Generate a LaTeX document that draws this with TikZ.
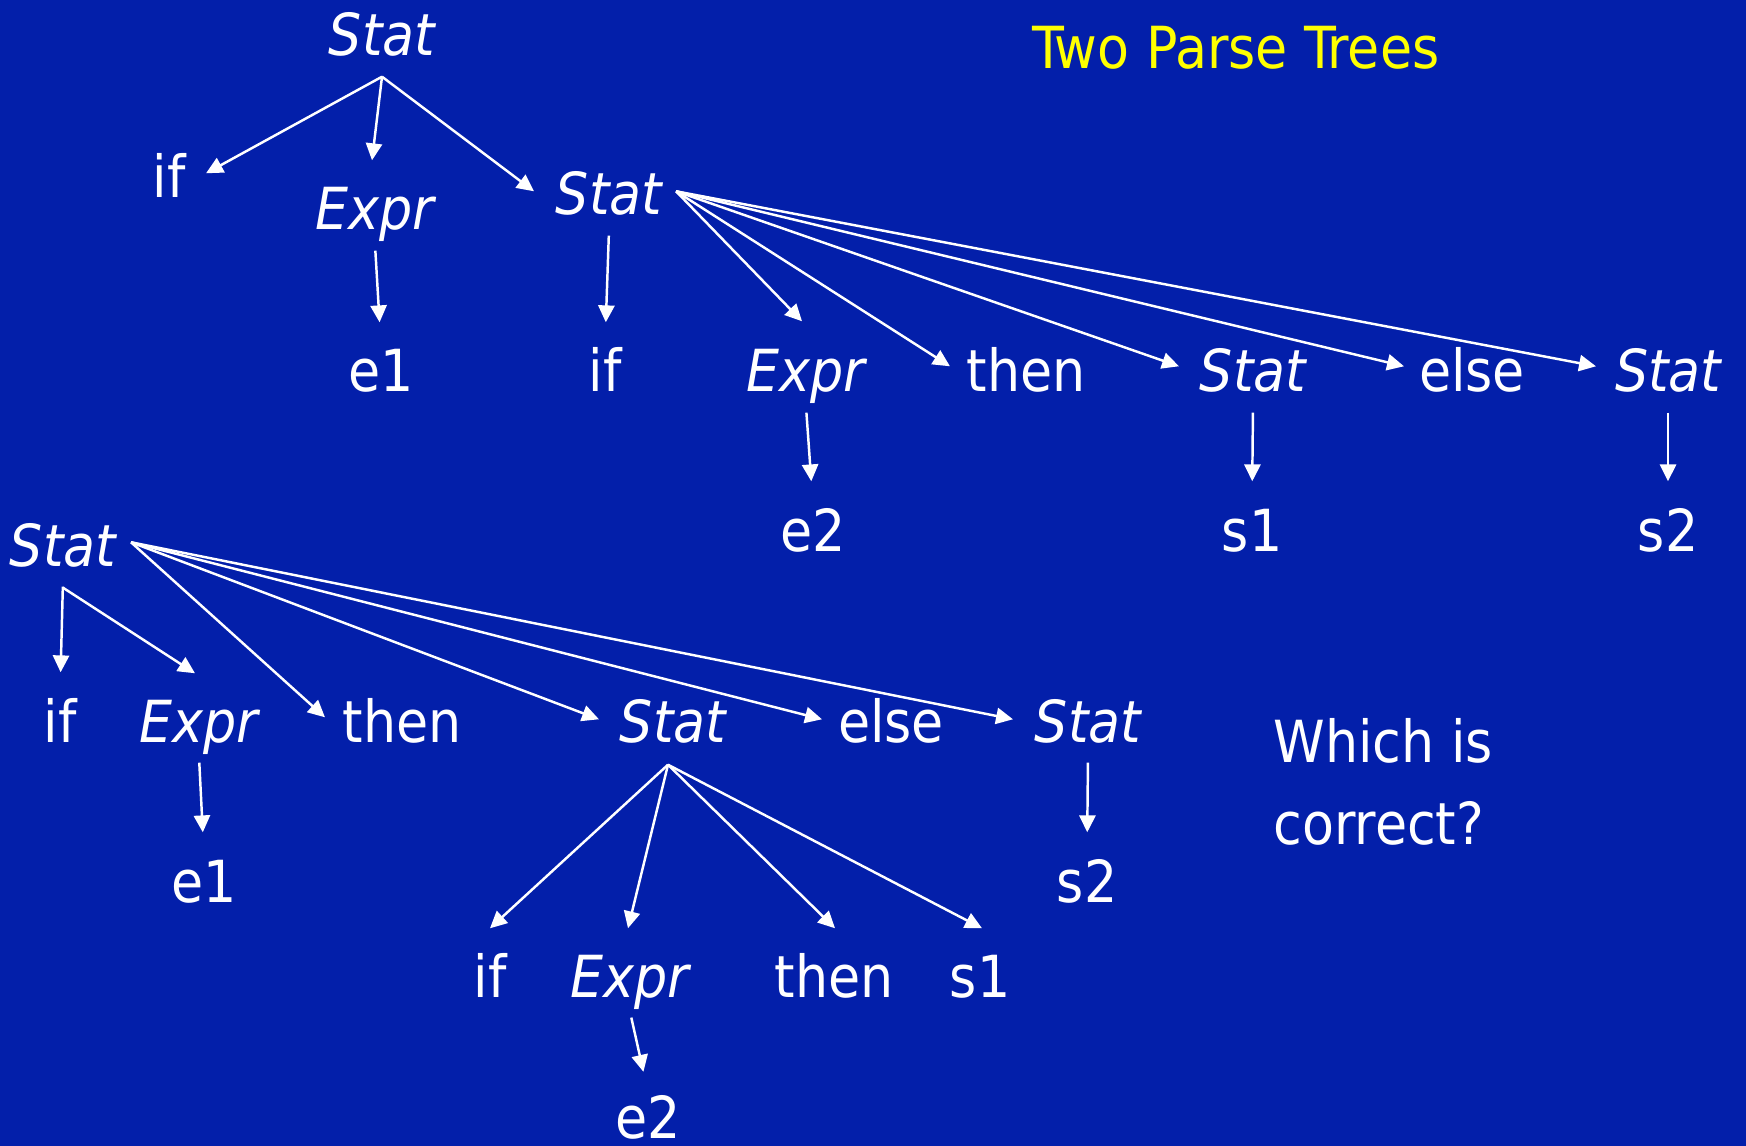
\documentclass[tikz,border=0pt]{standalone}
\usepackage{fontspec}
\setmainfont{DejaVu Sans Condensed}
\usetikzlibrary{arrows.meta}
\definecolor{slideblue}{RGB}{3,31,170}
\definecolor{titleyellow}{RGB}{255,255,0}

\begin{document}
\begin{tikzpicture}[x=0.01cm, y=-0.01cm]
\tikzstyle{word} = [anchor=base, inner sep=0pt, text height=0.45cm, text depth=0.14cm, text=white, font=\fontsize{16.5}{20}\selectfont]
\tikzstyle{nonterm} = [word, font=\fontsize{16.5}{20}\selectfont\itshape]
\tikzstyle{arrow} = [white, line width=0.7pt, -{Triangle[length=4.8pt,width=4.6pt]}]
\tikzstyle{down} = [arrow, shorten <=0.6mm, shorten >=2.4mm]

\useasboundingbox (0,0) rectangle (1746,1146);
\fill[slideblue] (0,0) rectangle (1746,1146);

\node (title) [word, text=titleyellow] at (1236,69) {Two Parse Trees};

% first tree
\node (stat0) [nonterm] at (382,56) {Stat};
\node (ifA) [word] at (169,198) {if};
\node (exprA) [nonterm] at (375,230) {Expr};
\node (statA) [nonterm] at (609,215) {Stat};
\node (e1A) [word] at (381,392) {e1};
\node (ifB) [word] at (605,392) {if};
\node (exprB) [nonterm] at (806,392) {Expr};
\node (thenB) [word] at (1026,392) {then};
\node (statB) [nonterm] at (1253,392) {Stat};
\node (elseB) [word] at (1472,392) {else};
\node (statC) [nonterm] at (1668,392) {Stat};
\node (e2B) [word] at (813,551) {e2};
\node (s1B) [word] at (1252,551) {s1};
\node (s2B) [word] at (1668,551) {s2};

\draw [arrow] ([yshift=-0.6mm]stat0.south) -- ([xshift=3.7mm,yshift=-2.1mm]ifA.north);
\draw [arrow] ([yshift=-0.6mm]stat0.south) -- ([xshift=-0.3mm,yshift=2.4mm]exprA.north);
\draw [arrow] ([yshift=-0.6mm]stat0.south) -- ([xshift=-7.5mm,yshift=-2.2mm]statA.north);
\draw [down] (exprA.south) -- (e1A.north);

\draw [down] (statA.south) -- (ifB.north);
\draw [arrow] ([xshift=6.7mm,yshift=-2.2mm]statA.north) -- ([xshift=-0.4mm,yshift=2.5mm]exprB.north);
\draw [arrow] ([xshift=6.7mm,yshift=-2.2mm]statA.north) -- ([xshift=-7.6mm,yshift=-2mm]thenB.north);
\draw [arrow] ([xshift=6.7mm,yshift=-2.2mm]statA.north) -- ([xshift=-7.4mm,yshift=-2mm]statB.north);
\draw [arrow] ([xshift=6.7mm,yshift=-2.2mm]statA.north) -- ([xshift=-6.8mm,yshift=-2mm]elseB.north);
\draw [arrow] ([xshift=6.7mm,yshift=-2.2mm]statA.north) -- ([xshift=-7.2mm,yshift=-2mm]statC.north);
\draw [down] (exprB.south) -- (e2B.north);
\draw [down] (statB.south) -- (s1B.north);
\draw [down] (statC.south) -- (s2B.north);

% second tree
\node (stat1) [nonterm] at (63,566) {Stat};
\node (ifC) [word] at (60,742) {if};
\node (exprC) [nonterm] at (199,742) {Expr};
\node (thenC) [word] at (402,742) {then};
\node (statD) [nonterm] at (673,742) {Stat};
\node (elseC) [word] at (891,742) {else};
\node (statE) [nonterm] at (1088,742) {Stat};
\node (e1C) [word] at (204,902) {e1};
\node (s2C) [word] at (1087,902) {s2};
\node (ifD) [word] at (490,997) {if};
\node (exprD) [nonterm] at (630,997) {Expr};
\node (thenD) [word] at (834,997) {then};
\node (s1D) [word] at (980,997) {s1};
\node (e2D) [word, text depth=0pt] at (648,1138) {e2};

\node (question) [anchor=north west, align=left, inner sep=0pt, text=white, font=\fontsize{16.5}{23.2}\selectfont] at (1273,718) {Which is\\correct?};

\draw [down] (stat1.south) -- (ifC.north);
\draw [arrow] ([yshift=-0.7mm]stat1.south) -- ([xshift=-0.4mm,yshift=2.3mm]exprC.north);
\draw [arrow] ([xshift=6.8mm,yshift=-2.2mm]stat1.north) -- ([xshift=-7.7mm,yshift=-2.1mm]thenC.north);
\draw [arrow] ([xshift=6.8mm,yshift=-2.2mm]stat1.north) -- ([xshift=-7.4mm,yshift=-2.3mm]statD.north);
\draw [arrow] ([xshift=6.8mm,yshift=-2.2mm]stat1.north) -- ([xshift=-6.9mm,yshift=-2.3mm]elseC.north);
\draw [arrow] ([xshift=6.8mm,yshift=-2.2mm]stat1.north) -- ([xshift=-7.5mm,yshift=-2.3mm]statE.north);
\draw [down] (exprC.south) -- (e1C.north);
\draw [down] (statE.south) -- (s2C.north);

\draw [arrow] ([xshift=-0.5mm,yshift=-0.8mm]statD.south) -- ([yshift=2.3mm]ifD.north);
\draw [arrow] ([xshift=-0.5mm,yshift=-0.8mm]statD.south) -- ([xshift=-0.2mm,yshift=2.3mm]exprD.north);
\draw [arrow] ([xshift=-0.5mm,yshift=-0.8mm]statD.south) -- ([xshift=0.1mm,yshift=2.3mm]thenD.north);
\draw [arrow] ([xshift=-0.5mm,yshift=-0.8mm]statD.south) -- ([xshift=0.2mm,yshift=2.3mm]s1D.north);
\draw [arrow, shorten <=0.6mm, shorten >=2.1mm] (exprD.south) -- (e2D.north);

\end{tikzpicture}
\end{document}
